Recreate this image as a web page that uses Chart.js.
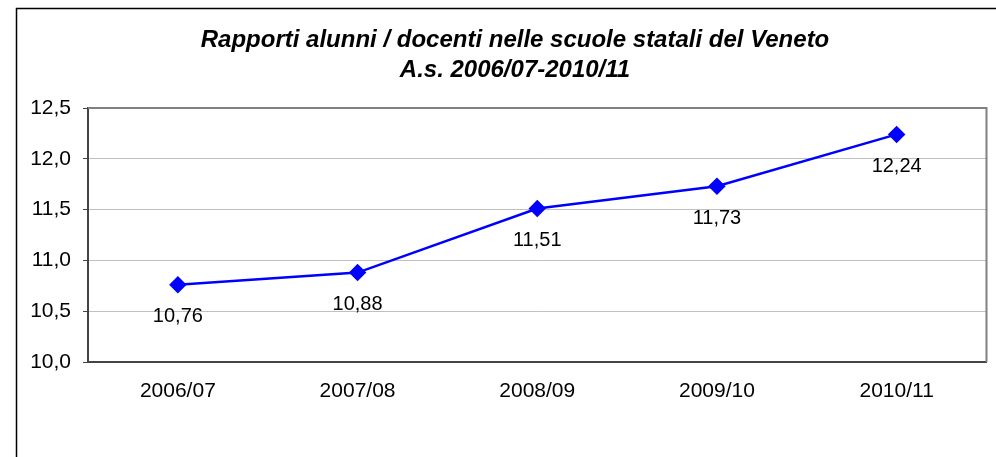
<!DOCTYPE html>
<html>
<head>
<meta charset="utf-8">
<script src="https://cdn.jsdelivr.net/npm/chart.js@4/dist/chart.umd.min.js"></script>
<style>
  html, body { margin: 0; padding: 0; background: #fff; }
  #wrap { width: 996px; height: 457px; }
</style>
</head>
<body>
<div id="wrap"><canvas id="chart" width="996" height="457"></canvas></div>
<script>
const years = ['2006/07', '2007/08', '2008/09', '2009/10', '2010/11'];
const ratios = [10.76, 10.88, 11.51, 11.73, 12.24];
const titleLines = ['Rapporti alunni / docenti nelle scuole statali del Veneto', 'A.s. 2006/07-2010/11'];

const FONT = '"Liberation Sans", Arial, sans-serif';

// white page, outer frame, title and plot border
const framePlugin = {
    id: 'frame',
    beforeDraw(chart) {
        const ctx = chart.ctx;
        ctx.save();
        ctx.fillStyle = '#fff';
        ctx.fillRect(0, 0, chart.width, chart.height);
        ctx.strokeStyle = '#000';
        ctx.lineWidth = 1.5;
        ctx.strokeRect(16.5, 8.5, chart.width + 20, chart.height + 20);

        ctx.fillStyle = '#000';
        ctx.font = 'italic bold 24px ' + FONT;
        ctx.textAlign = 'center';
        ctx.textBaseline = 'middle';
        titleLines.forEach((t, i) => ctx.fillText(t, 515, 40 + i * 30));
        ctx.restore();
    },
    beforeDatasetsDraw(chart) {
        const a = chart.chartArea;
        const ctx = chart.ctx;
        ctx.save();
        ctx.strokeStyle = '#808080';
        ctx.lineWidth = 2;
        ctx.beginPath();
        ctx.moveTo(a.left, a.top);
        ctx.lineTo(a.right, a.top);
        ctx.lineTo(a.right, a.bottom);
        ctx.stroke();
        ctx.restore();
    }
};

// value labels below each point
const labelPlugin = {
    id: 'valueLabels',
    afterDatasetsDraw(chart) {
        const ctx = chart.ctx;
        ctx.save();
        ctx.font = '20px ' + FONT;
        ctx.fillStyle = '#000';
        ctx.textAlign = 'center';
        ctx.textBaseline = 'middle';
        chart.getDatasetMeta(0).data.forEach((pt, i) => {
            ctx.fillText(ratios[i].toFixed(2).replace('.', ','), pt.x, pt.y + 32);
        });
        ctx.restore();
    }
};

new Chart(document.getElementById('chart'), {
    type: 'line',
    data: {
        labels: years,
        datasets: [{
            data: ratios,
            borderColor: '#0000ff',
            backgroundColor: '#0000ff',
            borderWidth: 2.5,
            pointStyle: 'rectRot',
            pointRadius: 7,
            pointHoverRadius: 7,
            tension: 0
        }]
    },
    options: {
        responsive: false,
        animation: false,
        layout: { padding: { left: 0, right: 9, top: 108, bottom: 0 } },
        plugins: {
            legend: { display: false },
            tooltip: { enabled: false },
            title: { display: false }
        },
        scales: {
            x: {
                offset: true,
                grid: { display: false, drawTicks: false },
                border: { display: true, color: '#444', width: 2 },
                ticks: { color: '#000', font: { family: FONT, size: 21 }, padding: 17, maxRotation: 0 },
                afterFit(scale) { scale.height = 95; }
            },
            y: {
                min: 10,
                max: 12.5,
                grid: { color: '#c0c0c0', lineWidth: 1, tickLength: 5, tickColor: '#444' },
                border: { display: true, color: '#444', width: 2 },
                ticks: {
                    stepSize: 0.5,
                    color: '#000',
                    padding: 12,
                    font: { family: FONT, size: 21 },
                    callback: v => v.toFixed(1).replace('.', ',')
                },
                afterFit(scale) { scale.width = 88; }
            }
        }
    },
    plugins: [framePlugin, labelPlugin]
});
</script>
</body>
</html>
